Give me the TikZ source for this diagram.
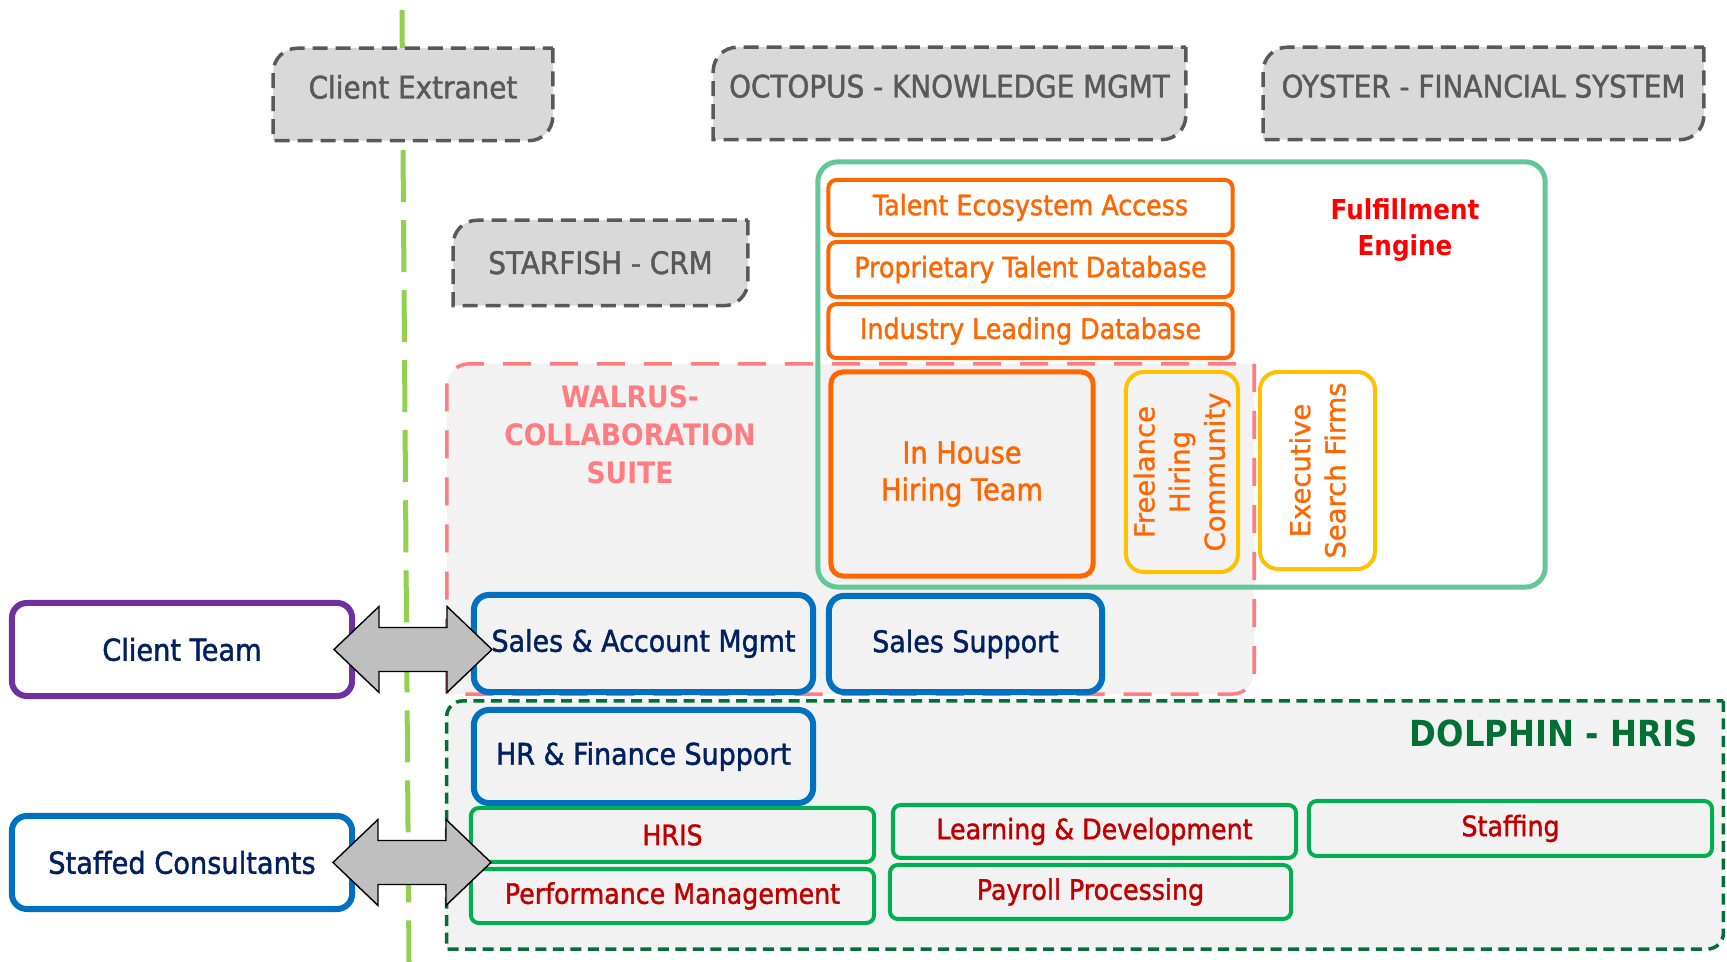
\documentclass[tikz,border=0pt]{standalone}
\usepackage{fontspec}
\setmainfont{DejaVu Sans}[FakeStretch=0.9, UprightFeatures={FakeBold=1.4}]
\newfontfamily\vertfont{DejaVu Sans}[UprightFeatures={FakeBold=1.0}]
\usetikzlibrary{positioning,calc,backgrounds}

\definecolor{sysgray}{HTML}{D9D9D9}
\definecolor{sysline}{HTML}{595959}
\definecolor{panel}{HTML}{F2F2F2}
\definecolor{limeline}{HTML}{92D050}
\definecolor{ffgreen}{RGB}{99,199,151}
\definecolor{orng}{HTML}{FF6600}
\definecolor{walpink}{HTML}{FF7C80}
\definecolor{amber}{HTML}{FFC000}
\definecolor{bluebox}{HTML}{0070C0}
\definecolor{navy}{HTML}{002060}
\definecolor{dolgreen}{RGB}{0,112,52}
\definecolor{hrgreen}{HTML}{00B050}
\definecolor{darkred}{HTML}{C00000}
\definecolor{ctpurple}{HTML}{7030A0}
\definecolor{arrowgray}{HTML}{BFBFBF}

% frame with rounded top-left and bottom-right corners
\newcommand\cornerframe[3]{%
  \begin{scope}[on background layer]
    \path[#1] (#2.north east) -- ([yshift=#3]#2.south east)
      arc[start angle=0, end angle=-90, radius=#3] -- (#2.south west)
      -- ([yshift=-#3]#2.north west) arc[start angle=180, end angle=90, radius=#3] -- cycle;
  \end{scope}}

\begin{document}
\begin{tikzpicture}[x=0.01cm, y=0.01cm, font=\fontsize{8}{10.5}\selectfont,
    divider/.style={draw=limeline, line width=0.05cm, dash pattern=on 0.52cm off 0.18cm},
    sysbox/.style={inner sep=0pt, text=sysline, font=\fontsize{8.8}{11}\selectfont, text height=0.22cm, text depth=0.14cm, minimum height=0.91cm},
    sysframe/.style={draw=sysline, fill=sysgray, line width=0.035cm, dash pattern=on 0.15cm off 0.08cm},
    walframe/.style={draw=walpink, fill=panel, line width=0.035cm, dash pattern=on 0.28cm off 0.19cm},
    dolframe/.style={draw=dolgreen, fill=panel, line width=0.035cm, dash pattern=on 0.11cm off 0.065cm},
    region/.style={inner sep=0pt, outer sep=0pt},
    talent/.style={draw=orng, line width=0.04cm, rounded corners=0.08cm, fill=white, text=orng, minimum width=4.04cm, minimum height=0.55cm, inner sep=0pt},
    channel/.style={draw=amber, line width=0.04cm, rounded corners=0.18cm, rotate=90, align=center, text=orng, font=\vertfont\fontsize{7.8}{10}\selectfont, inner sep=0pt},
    team/.style={draw=bluebox, line width=0.06cm, rounded corners=0.15cm, fill=panel, text=navy, font=\fontsize{8.5}{10.5}\selectfont, minimum width=3.39cm, inner sep=0pt},
    module/.style={draw=hrgreen, line width=0.04cm, rounded corners=0.08cm, fill=panel, text=darkred, minimum width=4.03cm, minimum height=0.54cm, inner sep=0pt},
    party/.style={line width=0.06cm, rounded corners=0.15cm, fill=white, text=navy, font=\fontsize{8.6}{10.5}\selectfont, minimum width=3.40cm, minimum height=0.93cm, inner sep=0pt},
    bigarrow/.style={fill=arrowgray, draw=black, line width=0.4pt}]

    \useasboundingbox (0,0) rectangle (1727,962);

    \coordinate (divtop) at (402,952);
    \coordinate (divbot) at (409,0);
    \begin{scope}[on background layer]
        \draw[divider] (divtop) -- (divbot);
    \end{scope}

    \node[sysbox, minimum width=2.78cm]                   (ext)  at (413,867.5)  {Client Extranet};
    \node[sysbox, minimum width=4.71cm]                   (octo) at (949.5,868.5) {OCTOPUS - KNOWLEDGE MGMT};
    \node[sysbox, minimum width=4.39cm]                   (oyst) at (1483.5,868.5) {OYSTER - FINANCIAL SYSTEM};
    \node[sysbox, text depth=0pt, minimum width=2.93cm, minimum height=0.84cm] (star) at (600.5,699) {STARFISH - CRM};
    \cornerframe{sysframe}{ext}{0.24cm}
    \cornerframe{sysframe}{octo}{0.24cm}
    \cornerframe{sysframe}{oyst}{0.24cm}
    \cornerframe{sysframe}{star}{0.24cm}

    \node[region, minimum width=8.07cm, minimum height=3.30cm]  (wal) at (850.5,433) {};
    \node[region, minimum width=12.76cm, minimum height=2.48cm] (dol) at (1085,137) {};
    \cornerframe{walframe}{wal}{0.22cm}
    \cornerframe{dolframe}{dol}{0.16cm}

    \node[text=walpink, align=center, font=\bfseries\fontsize{8.4}{10.8}\selectfont] (walt) at (630,527.5) {WALRUS-\\COLLABORATION\\SUITE};
    \node[anchor=east, inner sep=0pt, text=dolgreen, font=\bfseries\fontsize{10.2}{12}\selectfont] (dolt) at (1698,229) {DOLPHIN - HRIS};

    \node[draw=ffgreen, line width=0.05cm, rounded corners=0.2cm, minimum width=7.27cm, minimum height=4.25cm] (ful) at (1181.5,587.5) {};
    \node[text=red, align=center, font=\bfseries\fontsize{7.8}{10.2}\selectfont] (fuleng) at (1405,732) {Fulfillment\\Engine};

    \node[talent]                        (tea) at (1030.5,754.5) {Talent Ecosystem Access};
    \node[talent, below=0.03cm of tea]   (ptd) {Proprietary Talent Database};
    \node[talent, below=0.03cm of ptd, minimum height=0.54cm] (ild) {Industry Leading Database};

    \node[talent, fill=panel, line width=0.05cm, rounded corners=0.12cm, align=center, minimum width=2.62cm, minimum height=2.04cm, font=\fontsize{8.6}{10.5}\selectfont] (inh) at (962,488) {In House\\Hiring Team};
    \node[channel, fill=panel, minimum width=2.0cm, minimum height=1.12cm]  (free) at (1182,490)   {Freelance\\Hiring\\Community};
    \node[channel, fill=white, minimum width=1.97cm, minimum height=1.15cm] (exec) at (1317.5,491.5) {Executive\\Search Firms};

    \node[team, minimum height=0.97cm]                      (sam) at (643.5,318.5) {Sales \& Account Mgmt};
    \node[team, minimum width=2.73cm, minimum height=0.96cm] (ss)  at (965.5,318)   {Sales Support};
    \node[team, minimum height=0.93cm]                      (hrf) at (643.5,205.5) {HR \& Finance Support};

    \node[module]                      (hris) at (672.5,127)   {HRIS};
    \node[module, below=0.03cm of hris] (pm)                   {Performance Management};
    \node[module, minimum height=0.53cm] (ld)  at (1094.5,130.5) {Learning \& Development};
    \node[module, minimum width=4.01cm] (pp)  at (1090.5,70)    {Payroll Processing};
    \node[module, minimum height=0.55cm] (stf) at (1510.5,133.5) {Staffing};

    \node[party, draw=ctpurple] (ct) at (182,312.5) {Client Team};
    \node[party, draw=bluebox]  (sc) at (182,99.5)  {Staffed Consultants};

    \foreach \a/\b in {ct/sam, sc/hris}
        \filldraw[bigarrow] ($(\a.east)!0.5!(\a.east -| \b.west)$) +(-79,0) -- +(-34,43) -- +(-34,22) -- +(34,22) -- +(34,43)
            -- +(79,0) -- +(34,-43) -- +(34,-22) -- +(-34,-22) -- +(-34,-43) -- cycle;

\end{tikzpicture}
\end{document}
